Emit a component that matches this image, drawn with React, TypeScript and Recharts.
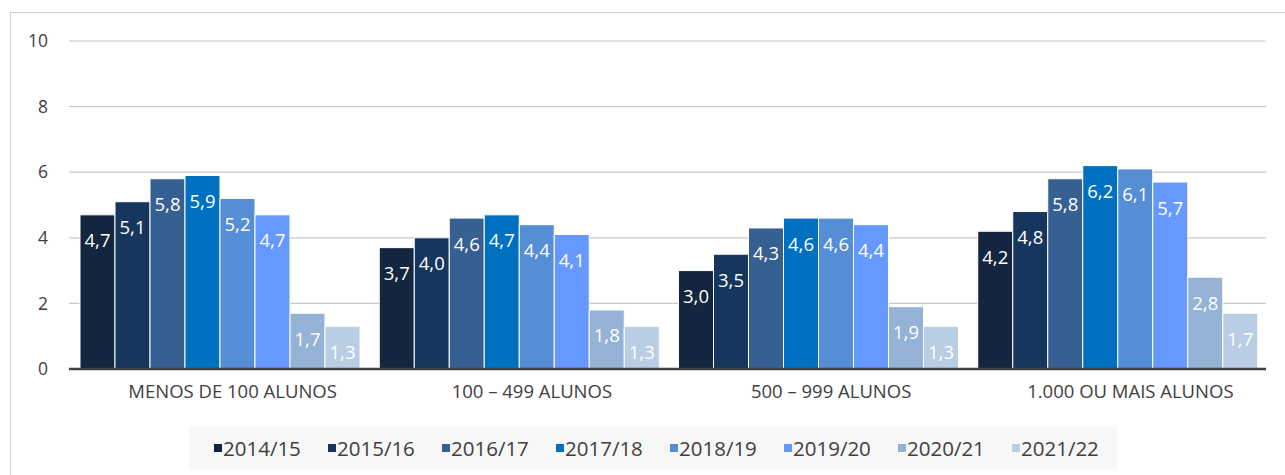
import { BarChart, Bar, XAxis, YAxis, CartesianGrid, Legend, LabelList } from "recharts";

const categories = ["MENOS DE 100 ALUNOS", "100 – 499 ALUNOS", "500 – 999 ALUNOS", "1.000 OU MAIS ALUNOS"];
const years = ["2014/15", "2015/16", "2016/17", "2017/18", "2018/19", "2019/20", "2020/21", "2021/22"];
const colors = ["#13253F", "#17365D", "#366092", "#0070C0", "#558ED5", "#6699FF", "#95B3D7", "#B9CDE5"];

const y2014 = [4.7, 3.7, 3.0, 4.2];
const y2015 = [5.1, 4.0, 3.5, 4.8];
const y2016 = [5.8, 4.6, 4.3, 5.8];
const y2017 = [5.9, 4.7, 4.6, 6.2];
const y2018 = [5.2, 4.4, 4.6, 6.1];
const y2019 = [4.7, 4.1, 4.4, 5.7];
const y2020 = [1.7, 1.8, 1.9, 2.8];
const y2021 = [1.3, 1.3, 1.3, 1.7];
const series = [y2014, y2015, y2016, y2017, y2018, y2019, y2020, y2021];

const yTicks = [0, 2, 4, 6, 8, 10];

const data = categories.map((name, i) => {
  const row: Record<string, string | number> = { name };
  years.forEach((yr, s) => {
    row[yr] = series[s][i];
  });
  return row;
});

const FONT = "'Open Sans', sans-serif";
const TEXT = "#404040";

const fmt = (v: number) => v.toFixed(1).replace(".", ",");

function BarValue(props: any) {
  const { x, y, width, value } = props;
  return (
    <text
      x={Number(x) + Number(width) / 2}
      y={Number(y) + 25}
      textAnchor="middle"
      dominantBaseline="central"
      fill="#ffffff"
      fontFamily={FONT}
      fontSize={18.5}
    >
      {fmt(Number(value))}
    </text>
  );
}

function LegendBox() {
  return (
    <div
      style={{
        width: 928,
        height: 42,
        background: "#f7f7f7",
        display: "flex",
        alignItems: "center",
        boxSizing: "border-box",
        paddingLeft: 25,
        fontFamily: FONT,
        fontSize: 20.5,
        color: TEXT,
      }}
    >
      {years.map((yr, i) => (
        <div key={yr} style={{ display: "flex", alignItems: "center", width: 114, flex: "none" }}>
          <span style={{ width: 8, height: 8, background: colors[i], display: "inline-block", marginRight: 1 }} />
          <span style={{ lineHeight: "42px" }}>{yr}</span>
        </div>
      ))}
    </div>
  );
}

export default function App() {
  return (
    <div style={{ position: "absolute", left: 0, top: 0, width: 1285, height: 475, background: "#fff", overflow: "hidden" }}>
      <div
        style={{
          position: "absolute",
          left: 10,
          top: 12,
          width: 1300,
          height: 500,
          border: "1.5px solid #d0d0d0",
        }}
      />
      <BarChart
        width={1285}
        height={475}
        data={data}
        margin={{ top: 41, right: 19, left: 0, bottom: 46 }}
        barCategoryGap={11}
        barGap={0}
        style={{ position: "absolute", left: 0, top: 0 }}
      >
        <CartesianGrid vertical={false} stroke="#c8c8c8" strokeWidth={1.2} />
        <YAxis
          domain={[0, 10]}
          ticks={yTicks}
          width={69}
          axisLine={false}
          tickLine={false}
          tickSize={0}
          tickMargin={21}
          tick={{ fill: TEXT, fontFamily: FONT, fontSize: 17.5 }}
        />
        <XAxis
          dataKey="name"
          height={60}
          axisLine={{ stroke: "#404040", strokeWidth: 2.5 }}
          tickLine={false}
          tickSize={0}
          tickMargin={16}
          tick={{ fill: TEXT, fontFamily: FONT, fontSize: 18.5, dx: 14 }}
        />
        <Legend
          layout="horizontal"
          verticalAlign="middle"
          align="center"
          wrapperStyle={{ left: 189, top: 427, width: 928, height: 42 }}
          content={() => <LegendBox />}
        />
        {years.map((yr, i) => (
          <Bar key={yr} dataKey={yr} fill={colors[i]} stroke="#ffffff" strokeWidth={1} isAnimationActive={false}>
            <LabelList dataKey={yr} content={BarValue} />
          </Bar>
        ))}
      </BarChart>
    </div>
  );
}
